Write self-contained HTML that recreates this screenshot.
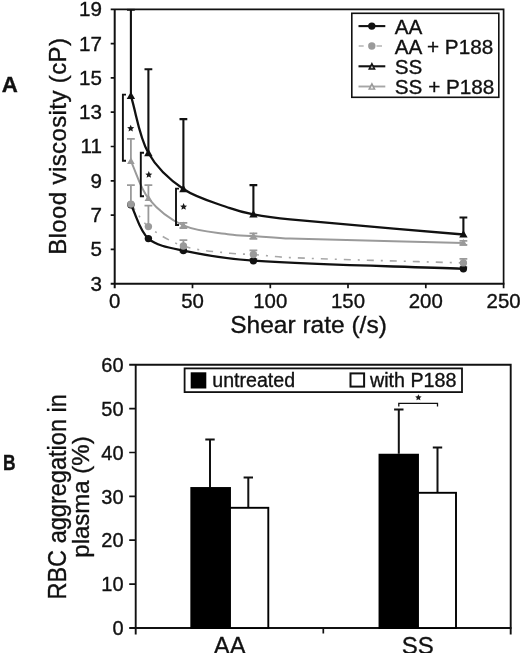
<!DOCTYPE html>
<html><head><meta charset="utf-8"><title>Figure</title>
<style>html,body{margin:0;padding:0;background:#fff;}body{width:520px;height:653px;overflow:hidden;font-family:"Liberation Sans",sans-serif;}svg{display:block;filter:blur(0.5px);}text{stroke:#111;stroke-width:0.35px;}</style>
</head><body>
<svg width="520" height="653" viewBox="0 0 520 653" font-family="Liberation Sans, sans-serif" fill="#111">
<rect width="520" height="653" fill="#fff"/>
<clipPath id="ca"><rect x="100" y="8.5" width="420" height="300"/></clipPath>
<g clip-path="url(#ca)">
<path d="M130.9 204.1 V185.1 M127.0 185.1 H134.8" stroke="#9a9a9a" stroke-width="1.8" fill="none"/>
<path d="M130.9 161.1 V138.8 M127.0 138.8 H134.8" stroke="#9a9a9a" stroke-width="1.8" fill="none"/>
<path d="M148.4 226.6 V205.7 M144.5 205.7 H152.3" stroke="#9a9a9a" stroke-width="1.8" fill="none"/>
<path d="M148.4 198.3 V185.1 M144.5 185.1 H152.3" stroke="#9a9a9a" stroke-width="1.8" fill="none"/>
<path d="M183.4 246.0 V240.1 M179.5 240.1 H187.3 M183.4 246.0 V251.8 M179.5 251.8 H187.3" stroke="#9a9a9a" stroke-width="1.8" fill="none"/>
<path d="M183.4 225.4 V222.8 M179.5 222.8 H187.3 M183.4 225.4 V228.0 M179.5 228.0 H187.3" stroke="#9a9a9a" stroke-width="1.8" fill="none"/>
<path d="M253.4 254.5 V250.3 M249.5 250.3 H257.3 M253.4 254.5 V258.8 M249.5 258.8 H257.3" stroke="#9a9a9a" stroke-width="1.8" fill="none"/>
<path d="M253.4 236.0 V233.3 M249.5 233.3 H257.3 M253.4 236.0 V238.8 M249.5 238.8 H257.3" stroke="#9a9a9a" stroke-width="1.8" fill="none"/>
<path d="M463.4 262.9 V258.8 M459.5 258.8 H467.3 M463.4 262.9 V267.1 M459.5 267.1 H467.3" stroke="#9a9a9a" stroke-width="1.8" fill="none"/>
<path d="M463.4 242.9 V240.8 M459.5 240.8 H467.3 M463.4 242.9 V244.9 M459.5 244.9 H467.3" stroke="#9a9a9a" stroke-width="1.8" fill="none"/>
<path d="M130.90 204.12 C136.73 211.61 141.12 220.79 148.40 226.59 C158.62 234.74 170.92 241.88 183.40 245.97 C198.12 250.79 214.41 251.39 230.00 253.30 C237.75 254.25 245.61 253.99 253.40 254.54 C265.61 255.42 277.77 257.11 290.00 257.60 C347.77 259.91 405.61 261.17 463.41 262.95" stroke="#a8a8a8" stroke-width="1.6" fill="none" stroke-dasharray="7 7 2 7"/>
<path d="M130.90 161.08 C136.73 173.48 139.97 187.97 148.40 198.29 C157.47 209.41 170.28 219.57 183.40 225.39 C197.48 231.64 214.38 232.13 230.00 234.50 C237.72 235.67 245.60 235.49 253.40 236.02 C265.60 236.86 277.78 238.20 290.00 238.60 C347.78 240.49 405.61 241.46 463.41 242.88" stroke="#9a9a9a" stroke-width="2" fill="none"/>
<path d="M130.90 204.81 C136.73 216.07 139.53 230.86 148.40 238.60 C157.03 246.12 171.38 248.07 183.40 250.60 C206.38 255.44 229.90 259.19 253.40 260.72 C323.24 265.25 393.41 266.09 463.41 268.78" stroke="#111" stroke-width="2.3" fill="none"/>
<path d="M130.90 95.91 C136.73 114.94 138.89 136.15 148.40 153.02 C156.39 167.20 169.82 179.85 183.40 189.03 C197.02 198.24 214.24 202.49 230.00 208.20 C237.57 210.95 245.48 212.94 253.40 214.41 C265.48 216.67 277.75 218.23 290.00 219.40 C347.75 224.92 405.61 229.45 463.41 234.48" stroke="#111" stroke-width="2.3" fill="none"/>
<path d="M130.9 95.9 V9.8 M127.0 9.8 H134.8" stroke="#111" stroke-width="2.1" fill="none"/>
<path d="M148.4 153.0 V69.3 M144.5 69.3 H152.3" stroke="#111" stroke-width="2.1" fill="none"/>
<path d="M183.4 189.0 V119.1 M179.5 119.1 H187.3" stroke="#111" stroke-width="2.1" fill="none"/>
<path d="M253.4 214.4 V185.1 M249.5 185.1 H257.3" stroke="#111" stroke-width="2.1" fill="none"/>
<path d="M463.4 234.5 V217.5 M459.5 217.5 H467.3" stroke="#111" stroke-width="2.1" fill="none"/>
<circle cx="130.9" cy="204.8" r="3.7" fill="#111"/>
<circle cx="148.4" cy="238.6" r="3.7" fill="#111"/>
<circle cx="183.4" cy="250.6" r="3.7" fill="#111"/>
<circle cx="253.4" cy="260.7" r="3.7" fill="#111"/>
<circle cx="463.4" cy="268.8" r="3.7" fill="#111"/>
<circle cx="130.9" cy="204.1" r="3.7" fill="#9a9a9a"/>
<path d="M130.9 157.3 L134.7 163.9 L127.1 163.9 Z" fill="#9a9a9a"/>
<path d="M130.9 91.7 L135.1 99.1 L126.7 99.1 Z" fill="#111"/>
<circle cx="148.4" cy="226.6" r="3.7" fill="#9a9a9a"/>
<path d="M148.4 194.5 L152.2 201.1 L144.6 201.1 Z" fill="#9a9a9a"/>
<path d="M148.4 148.8 L152.6 156.2 L144.2 156.2 Z" fill="#111"/>
<circle cx="183.4" cy="246.0" r="3.7" fill="#9a9a9a"/>
<path d="M183.4 221.6 L187.2 228.2 L179.6 228.2 Z" fill="#9a9a9a"/>
<path d="M183.4 184.8 L187.6 192.2 L179.2 192.2 Z" fill="#111"/>
<circle cx="253.4" cy="254.5" r="3.7" fill="#9a9a9a"/>
<path d="M253.4 232.2 L257.2 238.9 L249.6 238.9 Z" fill="#9a9a9a"/>
<path d="M253.4 210.2 L257.6 217.6 L249.2 217.6 Z" fill="#111"/>
<circle cx="463.4" cy="262.9" r="3.7" fill="#9a9a9a"/>
<path d="M463.4 239.1 L467.2 245.7 L459.6 245.7 Z" fill="#9a9a9a"/>
<path d="M463.4 230.3 L467.6 237.6 L459.2 237.6 Z" fill="#111"/>
</g>
<path d="M110.7 9.3 H503.6 V288.2" stroke="#111" stroke-width="1.7" fill="none"/>
<path d="M114.7 9.3 V288.2 M110.7 283.7 H504.4" stroke="#111" stroke-width="2" fill="none"/>
<path d="M110.7 249.4 H114.7 M110.7 215.1 H114.7 M110.7 180.8 H114.7 M110.7 146.5 H114.7 M110.7 112.2 H114.7 M110.7 77.9 H114.7 M110.7 43.6 H114.7 M192.5 283.7 V288.2 M270.3 283.7 V288.2 M348.0 283.7 V288.2 M425.8 283.7 V288.2 " stroke="#111" stroke-width="1.7" fill="none"/>
<text x="101.9" y="290.6" font-size="20.6" text-anchor="end">3</text>
<text x="101.9" y="256.3" font-size="20.6" text-anchor="end">5</text>
<text x="101.9" y="222.0" font-size="20.6" text-anchor="end">7</text>
<text x="101.9" y="187.7" font-size="20.6" text-anchor="end">9</text>
<text x="101.9" y="153.4" font-size="20.6" text-anchor="end">11</text>
<text x="101.9" y="119.1" font-size="20.6" text-anchor="end">13</text>
<text x="101.9" y="84.8" font-size="20.6" text-anchor="end">15</text>
<text x="101.9" y="50.5" font-size="20.6" text-anchor="end">17</text>
<text x="101.9" y="16.2" font-size="20.6" text-anchor="end">19</text>
<text x="114.7" y="307.6" font-size="20.4" text-anchor="middle">0</text>
<text x="192.5" y="307.6" font-size="20.4" text-anchor="middle">50</text>
<text x="270.3" y="307.6" font-size="20.4" text-anchor="middle">100</text>
<text x="348.0" y="307.6" font-size="20.4" text-anchor="middle">150</text>
<text x="425.8" y="307.6" font-size="20.4" text-anchor="middle">200</text>
<text x="503.6" y="307.6" font-size="20.4" text-anchor="middle">250</text>
<text x="308.5" y="332.5" font-size="24.5" text-anchor="middle">Shear rate (/s)</text>
<text transform="translate(66.3 254.8) rotate(-90)" font-size="24" textLength="216.8" lengthAdjust="spacing">Blood viscosity (cP)</text>
<text transform="translate(1.8 92.3) scale(1.06 1.04)" font-size="21" font-weight="bold">A</text>
<text transform="translate(2.9 469.8) scale(0.83 1.08)" font-size="21" font-weight="bold">B</text>
<path d="M126 94.6 H122.9 V160.7 H126 M144 152.8 H140.8 V196.3 H144 M179 188.6 H176 V225 H179" stroke="#111" stroke-width="1.9" fill="none"/>
<path d="M130.70 124.80 L131.73 127.08 L134.22 127.36 L132.36 129.04 L132.87 131.49 L130.70 130.25 L128.53 131.49 L129.04 129.04 L127.18 127.36 L129.67 127.08 Z" fill="#1a1a1a"/>
<path d="M148.80 171.10 L149.83 173.38 L152.32 173.66 L150.46 175.34 L150.97 177.79 L148.80 176.55 L146.63 177.79 L147.14 175.34 L145.28 173.66 L147.77 173.38 Z" fill="#1a1a1a"/>
<path d="M183.60 203.10 L184.63 205.38 L187.12 205.66 L185.26 207.34 L185.77 209.79 L183.60 208.55 L181.43 209.79 L181.94 207.34 L180.08 205.66 L182.57 205.38 Z" fill="#1a1a1a"/>
<rect x="351.8" y="13.3" width="147" height="84" fill="#fff" stroke="#111" stroke-width="1.6"/>
<text transform="translate(394.8 33.8) scale(1.035 1)" font-size="20">AA</text>
<text transform="translate(394.8 53.8) scale(1.035 1)" font-size="20">AA + P188</text>
<text transform="translate(394.8 73.8) scale(1.035 1)" font-size="20">SS</text>
<text transform="translate(394.8 93.5) scale(1.035 1)" font-size="20">SS + P188</text>
<path d="M358.5 26.1 H385.3" stroke="#111" stroke-width="2.1"/>
<circle cx="371.8" cy="26.1" r="3.7" fill="#111"/>
<path d="M358.7 46 H363.7 M376.5 46 H382" stroke="#b4b4b4" stroke-width="1.7"/>
<circle cx="371.8" cy="46" r="3.7" fill="#9a9a9a"/>
<path d="M358.5 66.3 H385.3" stroke="#111" stroke-width="2.1"/>
<path d="M371.9 62.1 L375.8 69.7 L368.0 69.7 Z" fill="#111"/><path d="M371.9 65.7 L373.4 68.3 L370.4 68.3 Z" fill="#bbb"/>
<path d="M358.5 86.5 H385.3" stroke="#a6a6a6" stroke-width="1.9"/>
<path d="M371.9 82.2 L375.8 89.8 L368.0 89.8 Z" fill="#9a9a9a"/><path d="M371.9 85.8 L373.4 88.4 L370.4 88.4 Z" fill="#eee"/>
<path d="M129.2 364.7 H510.7 V634.5" stroke="#111" stroke-width="1.9" fill="none"/>
<path d="M135.7 364.7 V634.5 M129.2 628.0 H511.5" stroke="#111" stroke-width="1.9" fill="none"/>
<path d="M129.2 584.1 H135.7 M129.2 540.2 H135.7 M129.2 496.4 H135.7 M129.2 452.5 H135.7 M129.2 408.6 H135.7 M323.3 628.0 V633.5" stroke="#111" stroke-width="1.7" fill="none"/>
<text x="123.6" y="635.2" font-size="20" text-anchor="end">0</text>
<text x="123.6" y="591.3" font-size="20" text-anchor="end">10</text>
<text x="123.6" y="547.4" font-size="20" text-anchor="end">20</text>
<text x="123.6" y="503.6" font-size="20" text-anchor="end">30</text>
<text x="123.6" y="459.7" font-size="20" text-anchor="end">40</text>
<text x="123.6" y="415.8" font-size="20" text-anchor="end">50</text>
<text x="123.6" y="371.9" font-size="20" text-anchor="end">60</text>
<path d="M210.0 487.6 V439.5 M205.3 439.5 H214.7" stroke="#111" stroke-width="2.0" fill="none"/>
<path d="M248.3 508.2 V477.5 M243.6 477.5 H253.0" stroke="#111" stroke-width="2.0" fill="none"/>
<path d="M398.8 453.8 V409.5 M394.1 409.5 H403.5" stroke="#111" stroke-width="2.0" fill="none"/>
<path d="M437.5 493.3 V447.5 M432.8 447.5 H442.2" stroke="#111" stroke-width="2.0" fill="none"/>
<rect x="191.3" y="488.0" width="38.7" height="140.0" fill="#000" stroke="#000" stroke-width="1.9"/>
<rect x="230.0" y="507.8" width="38.3" height="120.2" fill="#fff" stroke="#000" stroke-width="1.9"/>
<rect x="379.5" y="454.7" width="38.5" height="173.3" fill="#000" stroke="#000" stroke-width="1.9"/>
<rect x="418.0" y="492.8" width="38.0" height="135.2" fill="#fff" stroke="#000" stroke-width="1.9"/>
<path d="M398.8 406.5 V403.3 H437.5 V406.5" stroke="#111" stroke-width="1.3" fill="none"/>
<path d="M418.40 394.20 L419.34 396.31 L421.63 396.55 L419.92 398.09 L420.40 400.35 L418.40 399.20 L416.40 400.35 L416.88 398.09 L415.17 396.55 L417.46 396.31 Z" fill="#1a1a1a"/>
<rect x="184.6" y="368.4" width="277.4" height="23.7" fill="#fff" stroke="#111" stroke-width="1.8"/>
<rect x="190.7" y="372.3" width="15.6" height="16.2" fill="#000"/>
<text x="212.3" y="387.4" font-size="19.6">untreated</text>
<rect x="350.5" y="373.4" width="13.6" height="13.2" fill="#fff" stroke="#111" stroke-width="2"/>
<text x="370" y="386.8" font-size="19.7">with P188</text>
<text x="229.8" y="653.5" font-size="24" text-anchor="middle">AA</text>
<text x="417.7" y="653.5" font-size="24" text-anchor="middle">SS</text>
<text transform="translate(66.2 599.6) rotate(-90)" font-size="25" textLength="205.5" lengthAdjust="spacingAndGlyphs">RBC aggregation in</text>
<text transform="translate(89.2 497) rotate(-90)" font-size="24" text-anchor="middle">plasma (%)</text>
</svg>
</body></html>
